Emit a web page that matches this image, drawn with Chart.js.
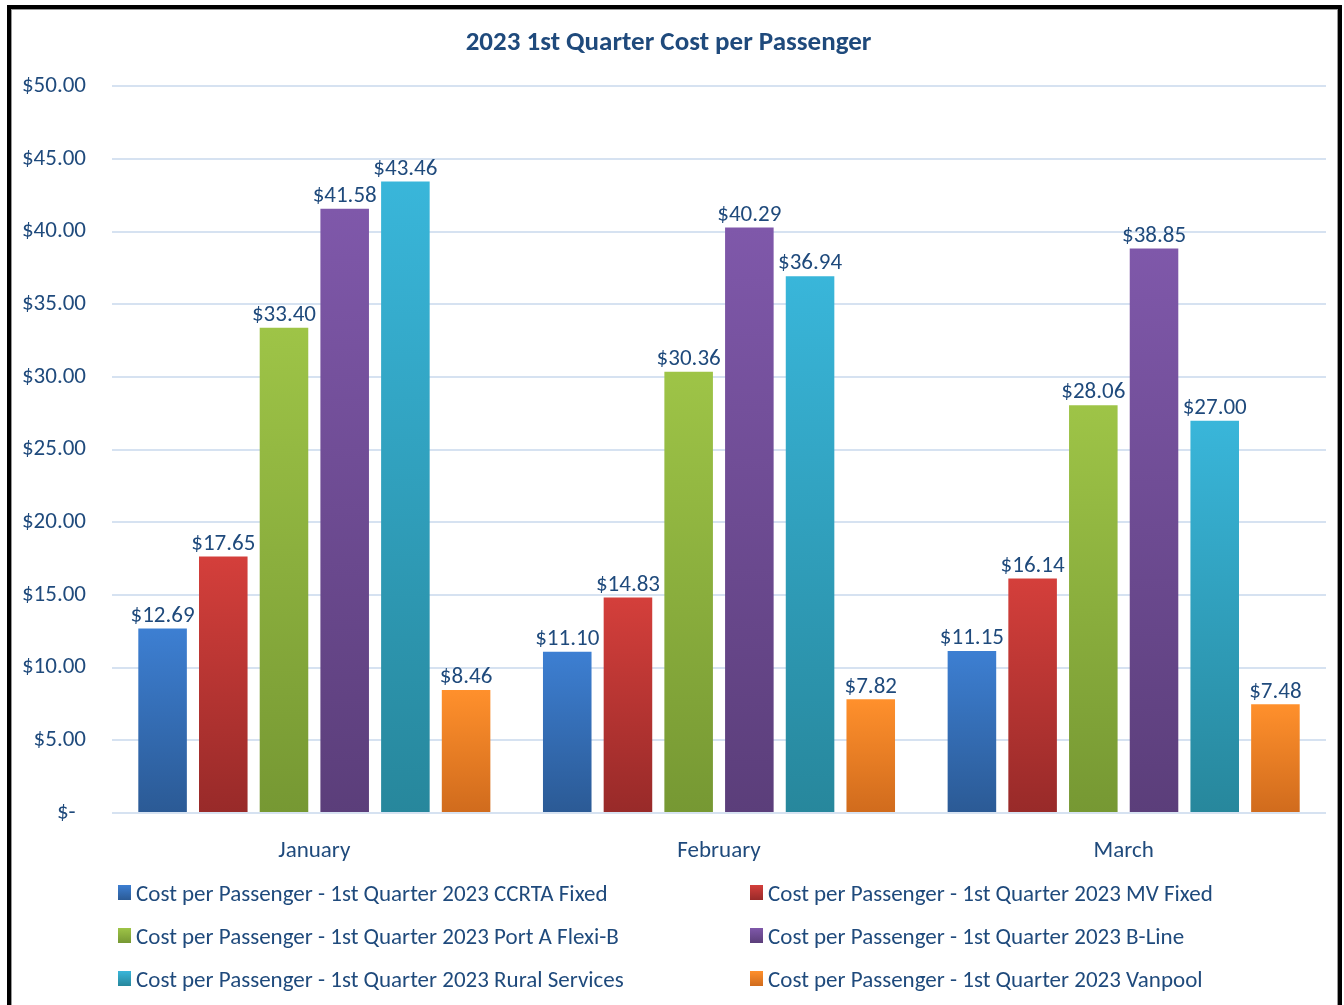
<!DOCTYPE html>
<html>
<head>
<meta charset="utf-8">
<script src="https://cdn.jsdelivr.net/npm/chart.js@4.4.1/dist/chart.umd.min.js"></script>
<style>
    body { margin: 0; background: #fff; font-family: Carlito, "Liberation Sans Narrow", "Open Sans", sans-serif; }
    #frame {
        position: absolute; left: 7px; top: 5px;
        width: 1327px; height: 1010px;
        border: 4px solid #000;
        box-shadow: inset 0 0 0 1px #999;
        background: #fff;
    }
    #chartBox { position: absolute; left: 0; top: 0; width: 1327px; height: 864px; }
    #legend {
        position: absolute; left: 107px; top: 862px;
        display: grid; grid-template-columns: 632px 560px; row-gap: 0;
    }
    .item { display: flex; align-items: center; height: 43px; color: #1F4A7C; font-size: 23px; white-space: nowrap; }
    .swatch { width: 13px; height: 15px; margin-right: 5px; }
</style>
</head>
<body>
<div id="frame">
    <div id="chartBox"><canvas id="costChart"></canvas></div>
    <div id="legend"></div>
</div>
<script>
const months = ['January', 'February', 'March'];
const seriesNames = [
    'Cost per Passenger - 1st Quarter 2023 CCRTA Fixed',
    'Cost per Passenger - 1st Quarter 2023 MV Fixed',
    'Cost per Passenger - 1st Quarter 2023 Port A Flexi-B',
    'Cost per Passenger - 1st Quarter 2023 B-Line',
    'Cost per Passenger - 1st Quarter 2023 Rural Services',
    'Cost per Passenger - 1st Quarter 2023 Vanpool'
];
const ccrtaFixed = [12.69, 11.10, 11.15];
const mvFixed = [17.65, 14.83, 16.14];
const portAFlexiB = [33.40, 30.36, 28.06];
const bLine = [41.58, 40.29, 38.85];
const ruralServices = [43.46, 36.94, 27.00];
const vanpool = [8.46, 7.82, 7.48];
const yTicks = [0, 5, 10, 15, 20, 25, 30, 35, 40, 45, 50];

const seriesValues = [ccrtaFixed, mvFixed, portAFlexiB, bLine, ruralServices, vanpool];
// top / bottom colours of each bar gradient
const colorPairs = [
    ['#3D7FD2', '#2B5A95'],
    ['#D43F3B', '#982A29'],
    ['#9EC447', '#769833'],
    ['#7F58AA', '#5B3E7A'],
    ['#39B6DA', '#27879C'],
    ['#FF902C', '#D06B1D']
];
const textColor = '#1F4A7C';
const fontFamily = 'Carlito, "Liberation Sans Narrow", "Open Sans", sans-serif';

function barGradient(pair) {
    return function(ctx) {
        const chart = ctx.chart;
        if (!chart.chartArea || ctx.raw === undefined) return pair[0];
        const y = chart.scales.y;
        const top = y.getPixelForValue(ctx.raw);
        const bottom = y.getPixelForValue(0);
        if (!isFinite(top) || top === bottom) return pair[0];
        const g = chart.ctx.createLinearGradient(0, top, 0, bottom);
        g.addColorStop(0, pair[0]);
        g.addColorStop(1, pair[1]);
        return g;
    };
}

const valueLabels = {
    id: 'valueLabels',
    afterDatasetsDraw(chart) {
        const c = chart.ctx;
        c.save();
        c.font = '23px ' + fontFamily;
        c.fillStyle = textColor;
        c.textAlign = 'center';
        c.textBaseline = 'bottom';
        chart.data.datasets.forEach((ds, i) => {
            chart.getDatasetMeta(i).data.forEach((bar, j) => {
                c.fillText('$' + ds.data[j].toFixed(2), bar.x, bar.y - 1);
            });
        });
        c.restore();
    }
};

new Chart(document.getElementById('costChart'), {
    type: 'bar',
    data: {
        labels: months,
        datasets: seriesNames.map((name, i) => ({
            label: name,
            data: seriesValues[i],
            backgroundColor: barGradient(colorPairs[i]),
            borderWidth: 0,
            categoryPercentage: 0.9,
            barPercentage: 0.8
        }))
    },
    options: {
        responsive: true,
        maintainAspectRatio: false,
        animation: false,
        layout: { padding: { left: 0, right: 12, top: 0, bottom: 0 } },
        plugins: {
            legend: { display: false },
            tooltip: { enabled: false },
            title: {
                display: true,
                text: '2023 1st Quarter Cost per Passenger',
                color: textColor,
                font: { family: fontFamily, size: 27, weight: 'bold' },
                padding: { top: 18, bottom: 27 }
            }
        },
        scales: {
            x: {
                grid: { display: false },
                border: { display: false },
                ticks: { color: textColor, padding: 16, font: { family: fontFamily, size: 23 } },
                afterFit: axis => { axis.height = 60; }
            },
            y: {
                min: 0,
                max: 50,
                afterBuildTicks: axis => { axis.ticks = yTicks.map(v => ({ value: v })); },
                afterFit: axis => { axis.width = 101; },
                grid: { color: '#D6E2F1', lineWidth: 2, drawTicks: false },
                border: { display: false },
                ticks: {
                    color: textColor,
                    padding: 26,
                    font: { family: fontFamily, size: 23 },
                    callback: v => v === 0 ? '$-  ' : '$' + Number(v).toFixed(2)
                }
            }
        }
    },
    plugins: [valueLabels]
});

// legend in two columns, same order as the series
const legend = document.getElementById('legend');
seriesNames.forEach((name, i) => {
    const item = document.createElement('div');
    item.className = 'item';
    const sw = document.createElement('span');
    sw.className = 'swatch';
    sw.style.background = 'linear-gradient(' + colorPairs[i][0] + ',' + colorPairs[i][1] + ')';
    item.appendChild(sw);
    item.appendChild(document.createTextNode(name));
    legend.appendChild(item);
});
</script>
</body>
</html>
